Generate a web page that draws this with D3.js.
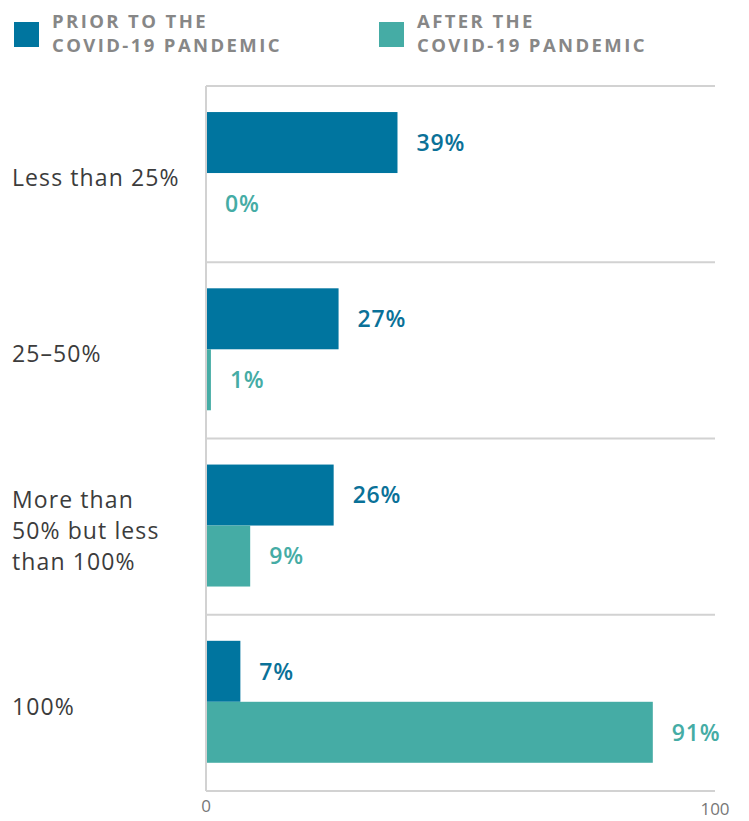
<!DOCTYPE html>
<html>
<head>
<meta charset="utf-8">
<script src="https://cdn.jsdelivr.net/npm/d3@7"></script>
<style>
  html, body { margin: 0; padding: 0; background: #fff; }
  svg { display: block; font-family: "Open Sans", sans-serif; }
</style>
</head>
<body>
<div id="chart"></div>
<script>
// data
const categories = ["Less than 25%", "25–50%", "More than 50% but less than 100%", "100%"];
const categoryLines = [["Less than 25%"], ["25–50%"], ["More than", "50% but less", "than 100%"], ["100%"]];
const seriesKeys = ["prior", "after"];
const seriesNames = [["PRIOR TO THE", "COVID-19 PANDEMIC"], ["AFTER THE", "COVID-19 PANDEMIC"]];
const priorValues = [39, 27, 26, 7];
const afterValues = [0, 1, 9, 91];
const xTickLabels = ["0", "100"];

(() => {
  const width = 749, height = 821;
  const colors = { prior: "#00759f", after: "#45aca5" };
  const labelColors = { prior: "#0a7198", after: "#45aca5" };

  const plot = { left: 206, right: 715, top: 86, bottom: 791 };

  const rows = categories.map((c, i) => ({
    cat: c, lines: categoryLines[i], prior: priorValues[i], after: afterValues[i]
  }));

  const svg = d3.select("#chart").append("svg")
    .attr("width", width).attr("height", height)
    .attr("viewBox", `0 0 ${width} ${height}`);

  const x = d3.scaleLinear().domain([0, 100]).range([plot.left, 697]);

  const y = d3.scaleBand().domain(categories)
    .range([plot.top, plot.bottom]).paddingInner(0).paddingOuter(0);

  const y1 = d3.scaleBand().domain(seriesKeys)
    .range([0, y.bandwidth()]).paddingInner(0).paddingOuter(0.445).align(0.48);

  // grid lines (band edges)
  const edges = categories.map(c => y(c)).concat([plot.bottom]);
  svg.append("g").selectAll("line")
    .data(edges).enter().append("line")
    .attr("x1", x(0)).attr("x2", plot.right)
    .attr("y1", d => d).attr("y2", d => d)
    .attr("stroke", "#d2d2d2").attr("stroke-width", 2);

  // bars
  const groups = svg.append("g").selectAll("g")
    .data(rows).enter().append("g")
    .attr("transform", d => `translate(0,${y(d.cat)})`);

  groups.selectAll("rect")
    .data(d => seriesKeys.map(k => ({ key: k, value: d[k] })))
    .enter().append("rect")
    .attr("x", x(0))
    .attr("y", d => y1(d.key))
    .attr("width", d => x(d.value) - x(0))
    .attr("height", y1.bandwidth())
    .attr("fill", d => colors[d.key]);

  // value labels
  groups.selectAll("text.val")
    .data(d => seriesKeys.map(k => ({ key: k, value: d[k] })))
    .enter().append("text")
    .attr("class", "val")
    .attr("x", d => x(d.value) + 19)
    .attr("y", d => y1(d.key) + y1.bandwidth() / 2)
    .attr("dy", "0.36em")
    .attr("fill", d => labelColors[d.key])
    .style("font-size", "23px")
    .style("font-weight", 600)
    .style("letter-spacing", "0.8px")
    .text(d => d.value + "%");

  // axis line (vertical)
  svg.append("line")
    .attr("x1", x(0)).attr("x2", x(0))
    .attr("y1", plot.top).attr("y2", plot.bottom)
    .attr("stroke", "#d2d2d2").attr("stroke-width", 2);

  // category labels
  groups.append("text")
    .attr("x", 12)
    .attr("fill", "#3c3c3c")
    .style("font-size", "23px")
    .style("letter-spacing", "1.1px")
    .each(function (d) {
      const mid = y1("prior") + y1.bandwidth();
      const n = d.lines.length;
      d3.select(this).selectAll("tspan")
        .data(d.lines).enter().append("tspan")
        .attr("x", 12)
        .attr("y", (l, i) => mid + 13 + (i - (n - 1) / 2) * 31)
        .text(l => l);
    });

  // x tick labels
  const tickX = [x(0), plot.right];
  const tickY = [812, 815];
  svg.append("g").selectAll("text")
    .data(xTickLabels).enter().append("text")
    .attr("x", (d, i) => tickX[i])
    .attr("y", (d, i) => tickY[i])
    .attr("text-anchor", "middle")
    .attr("fill", "#777")
    .style("font-size", "17px")
    .text(d => d);

  // legend
  const legendX = [14, 379];
  const legend = svg.append("g").selectAll("g")
    .data(seriesKeys).enter().append("g")
    .attr("transform", (d, i) => `translate(${legendX[i]},0)`);

  legend.append("rect")
    .attr("x", 0).attr("y", 22)
    .attr("width", 25).attr("height", 25)
    .attr("fill", d => colors[d]);

  legend.append("text")
    .attr("fill", "#878787")
    .style("font-size", "18.5px")
    .style("font-weight", 700)
    .style("letter-spacing", "2.4px")
    .selectAll("tspan")
    .data((d, i) => seriesNames[i]).enter().append("tspan")
    .attr("x", 38)
    .attr("y", (l, i) => 27.5 + i * 24.5)
    .text(l => l);
})();
</script>
</body>
</html>
